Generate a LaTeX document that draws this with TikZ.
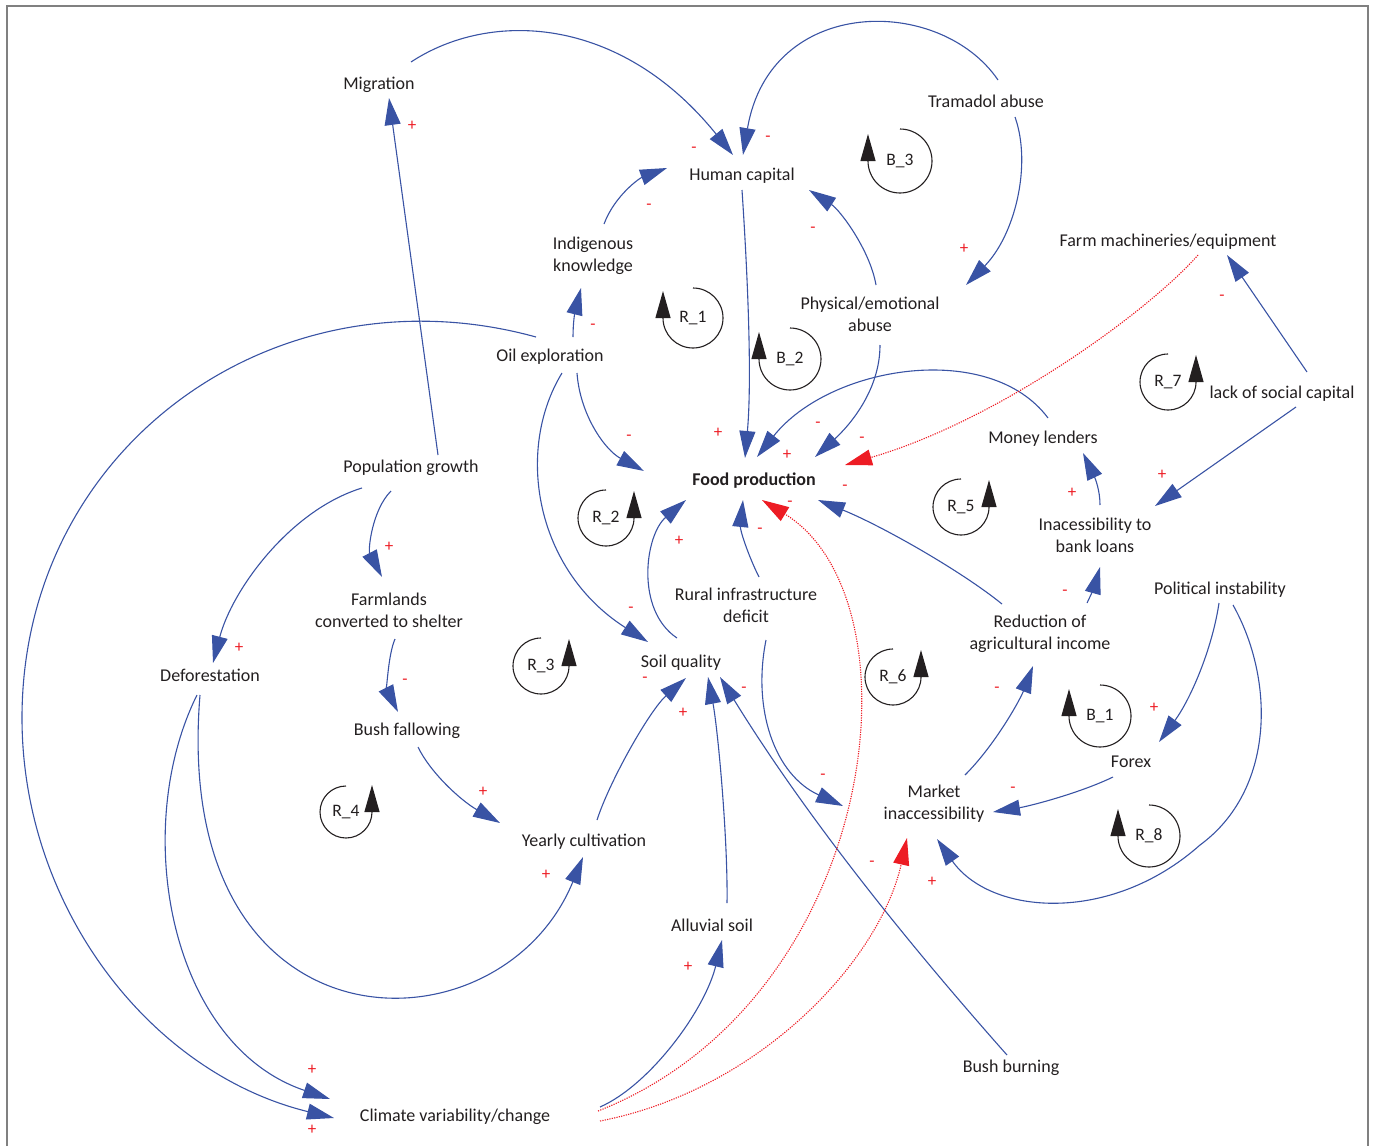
\documentclass[tikz,border=0pt]{standalone}
\usepackage{fontspec}
\setmainfont{Carlito}
\usetikzlibrary{arrows.meta,calc}
\definecolor{cldblue}{HTML}{3953A4}
\definecolor{cldred}{HTML}{ED1C24}
\definecolor{cldink}{HTML}{231F20}
\definecolor{framegray}{HTML}{808080}
% loop marker, arrow on the left side: name, x, y, radius, label
\newcommand{\cwloop}[5]{%
  \node[looplbl] (#1) at (#2,#3) {#5};
  \draw[loopline] (#2,#3-#4) arc[start angle=-90, end angle=180, radius=#4] -- ++(0,-27);}
% loop marker, arrow on the right side
\newcommand{\ccwloop}[5]{%
  \node[looplbl] (#1) at (#2,#3) {#5};
  \draw[loopline] (#2,#3-#4) arc[start angle=-90, end angle=-360, radius=#4] -- ++(0,-27);}
\tikzset{
  var/.style={text=cldink, font=\fontsize{18}{22}\selectfont, align=center, inner sep=1pt},
  pol/.style={text=cldred, font=\fontsize{17}{17}\selectfont, inner sep=0pt},
  looplbl/.style={text=cldink, font=\fontsize{17.5}{20}\selectfont, inner sep=0pt},
  loopline/.style={draw=cldink, line width=1.1pt, -{Triangle[length=27pt, width=15pt]}},
  arr/.style={draw=cldblue, line width=1.1pt, -{Triangle[length=27pt, width=16pt]}},
  rarr/.style={draw=cldred, line width=1.1pt, dash pattern=on 1.2pt off 1.2pt,
               -{Triangle[length=27pt, width=16pt]}}}
\begin{document}
\begin{tikzpicture}[x=1pt, y=-1pt]
  \useasboundingbox (0,0) rectangle (1373,1146);
  \draw[framegray, line width=1.4pt] (7,1146) -- (7,6) -- (1368,6) -- (1368,1146);

  % variables
  \node[var] (mig) at (379,85) {Migration};
  \node[var] (hcap) at (742,176) {Human capital};
  \node[var] (tram) at (986,101) {Tramadol abuse};
  \node[var] (indk) at (593,256) {Indigenous\\knowledge};
  \node[var] (farm) at (1168,242) {Farm machineries/equipment};
  \node[var] (phys) at (870,314) {Physical/emotional\\abuse};
  \node[var] (oil) at (550,357) {Oil exploration};
  \node[var] (lsoc) at (1282,394) {lack of social capital};
  \node[var] (money) at (1043,439) {Money lenders};
  \node[var] (pop) at (411,468) {Population growth};
  \node[var, font=\fontsize{18}{22}\selectfont\bfseries] (food) at (754,481) {Food production};
  \node[var] (bank) at (1095,535) {Inacessibility to\\bank loans};
  \node[var] (rural) at (746,605) {Rural infrastructure\\deficit};
  \node[var] (shelt) at (389,610) {Farmlands\\converted to shelter};
  \node[var] (polit) at (1220,590) {Political instability};
  \node[var] (redinc) at (1040,634) {Reduction of\\agricultural income};
  \node[var] (soil) at (681,663) {Soil quality};
  \node[var] (defor) at (210,675) {Deforestation};
  \node[var] (fallow) at (407,731) {Bush fallowing};
  \node[var] (forex) at (1131,762) {Forex};
  \node[var] (market) at (934,804) {Market\\inaccessibility};
  \node[var] (yearly) at (584,842) {Yearly cultivation};
  \node[var] (alluv) at (712,925) {Alluvial soil};
  \node[var] (burn) at (1011,1068) {Bush burning};
  \node[var] (clim) at (455,1117) {Climate variability/change};

  % causal links
  \draw[arr] ($(mig)+(32,-23)$) .. controls (490,10) and (620,15) .. ($(hcap)+(-9,-21)$);
  \draw[arr] ($(tram)+(12,-21)$) .. controls (940,-5) and (770,-5) .. ($(hcap)+(1,-21)$);
  \draw[arr] ($(tram)+(29,16)$) .. controls (1032,165) and (1015,235) .. ($(phys)+(96,-29)$);
  \draw[arr] ($(indk)+(11,-32)$) .. controls (615,195) and (640,178) .. ($(hcap)+(-75,-8)$);
  \draw[arr] ($(phys)+(6,-29)$) .. controls (870,250) and (840,210) .. ($(hcap)+(67,14)$);
  \draw[arr] ($(hcap)+(0,14)$) .. controls (748,280) and (752,380) .. ($(food)+(-9,-23)$);
  \draw[arr] ($(oil)+(23,-20)$) .. controls (573,322) and (575,312) .. ($(indk)+(-12,32)$);
  \draw[arr] ($(oil)+(-14,-20)$) .. controls (275,265) and (22,447) .. (22,718)
             .. controls (22,907) and (150,1073) .. ($(clim)+(-121,1)$);
  \draw[arr] ($(defor)+(-13,20)$) .. controls (130,830) and (170,1045) .. ($(clim)+(-125,-18)$);
  \draw[arr] ($(defor)+(-10,20)$) .. controls (170,1060) and (500,1060) .. ($(yearly)+(-1,15)$);
  \draw[arr] ($(pop)+(27,-13)$) -- ($(mig)+(10,13)$);
  \draw[arr] ($(pop)+(-49,20)$) .. controls (290,510) and (232,590) .. ($(defor)+(3,-12)$);
  \draw[arr] ($(pop)+(-20,23)$) .. controls (372,510) and (368,550) .. ($(shelt)+(-7,-33)$);
  \draw[arr] ($(shelt)+(6,29)$) .. controls (388,655) and (387,690) .. ($(fallow)+(-9,-19)$);
  \draw[arr] ($(fallow)+(11,16)$) .. controls (430,772) and (460,800) .. ($(yearly)+(-84,-19)$);
  \draw[arr] ($(yearly)+(13,-22)$) .. controls (610,780) and (650,710) .. ($(soil)+(5,15)$);
  \draw[arr] ($(alluv)+(15,-22)$) .. controls (728,840) and (718,730) .. ($(soil)+(27,14)$);
  \draw[arr] ($(burn)+(-4,-13)$) .. controls (905,940) and (805,815) .. ($(soil)+(39,14)$);
  \draw[arr] ($(clim)+(145,-10)$) .. controls (650,1085) and (705,1010) .. ($(alluv)+(10,15)$);
  \draw[rarr] ($(clim)+(143,-6)$) .. controls (880,1000) and (925,600) .. ($(food)+(8,19)$);
  \draw[rarr] ($(clim)+(145,4)$) .. controls (760,1090) and (880,960) .. ($(market)+(-27,34)$);
  \draw[arr] ($(rural)+(13,-28)$) .. controls (748,555) and (740,530) .. ($(food)+(-11,19)$);
  \draw[arr] ($(rural)+(20,35)$) .. controls (752,710) and (775,775) .. ($(market)+(-91,2)$);
  \draw[arr] ($(soil)+(-4,-25)$) .. controls (635,610) and (645,535) .. ($(food)+(-68,19)$);
  \draw[arr] ($(oil)+(27,16)$) .. controls (580,415) and (605,450) .. ($(food)+(-110,-10)$);
  \draw[arr] ($(oil)+(12,16)$) .. controls (515,450) and (535,570) .. ($(soil)+(-33,-21)$);
  \draw[arr] ($(phys)+(10,31)$) .. controls (880,390) and (850,425) .. ($(food)+(61,-24)$);
  \draw[arr] ($(money)+(5,-21)$) .. controls (990,340) and (830,365) .. ($(food)+(3,-24)$);
  \draw[rarr] ($(farm)+(30,13)$) .. controls (1150,310) and (1000,420) .. ($(food)+(91,-16)$);
  \draw[arr] ($(lsoc)+(25,-22)$) -- ($(farm)+(59,13)$);
  \draw[arr] ($(lsoc)+(14,13)$) -- ($(bank)+(60,-29)$);
  \draw[arr] ($(bank)+(5,-30)$) .. controls (1100,490) and (1095,478) .. ($(money)+(40,14)$);
  \draw[arr] ($(redinc)+(47,-31)$) .. controls (1090,597) and (1095,585) .. ($(bank)+(5,32)$);
  \draw[arr] ($(redinc)+(-38,-30)$) .. controls (960,570) and (880,525) .. ($(food)+(64,19)$);
  \draw[arr] ($(market)+(31,-29)$) .. controls (995,745) and (1020,700) .. ($(redinc)+(-7,32)$);
  \draw[arr] ($(polit)+(-1,13)$) .. controls (1212,650) and (1190,700) .. ($(forex)+(28,-20)$);
  \draw[arr] ($(polit)+(13,15)$) .. controls (1275,680) and (1275,790) .. (1200,845)
             .. controls (1110,925) and (990,915) .. ($(market)+(3,35)$);
  \draw[arr] ($(forex)+(-18,15)$) .. controls (1080,793) and (1030,806) .. ($(market)+(59,8)$);

  % polarities
  \node[pol] (s1) at (412,126) {+};
  \node[pol] (s2) at (694,150) {-};
  \node[pol] (s3) at (768,139) {-};
  \node[pol] (s4) at (649,207) {-};
  \node[pol] (s5) at (813,230) {-};
  \node[pol] (s6) at (964,249) {+};
  \node[pol] (s7) at (1222,298) {-};
  \node[pol] (s8) at (593,327) {-};
  \node[pol] (s9) at (629,438) {-};
  \node[pol] (s10) at (718,433) {+};
  \node[pol] (s11) at (787,455) {+};
  \node[pol] (s12) at (818,425) {-};
  \node[pol] (s13) at (862,440) {-};
  \node[pol] (s14) at (845,488) {-};
  \node[pol] (s15) at (790,504) {-};
  \node[pol] (s16) at (760,531) {-};
  \node[pol] (s17) at (679,541) {+};
  \node[pol] (s18) at (1072,493) {+};
  \node[pol] (s19) at (1162,475) {+};
  \node[pol] (s20) at (389,547) {+};
  \node[pol] (s21) at (1065,593) {-};
  \node[pol] (s22) at (631,610) {-};
  \node[pol] (s23) at (239,648) {+};
  \node[pol] (s24) at (405,682) {-};
  \node[pol] (s25) at (645,680) {-};
  \node[pol] (s26) at (683,713) {+};
  \node[pol] (s27) at (744,690) {-};
  \node[pol] (s28) at (997,690) {-};
  \node[pol] (s29) at (1154,708) {+};
  \node[pol] (s30) at (823,777) {-};
  \node[pol] (s31) at (1013,790) {-};
  \node[pol] (s32) at (483,792) {+};
  \node[pol] (s33) at (546,875) {+};
  \node[pol] (s34) at (872,864) {-};
  \node[pol] (s35) at (932,882) {+};
  \node[pol] (s36) at (688,967) {+};
  \node[pol] (s37) at (312,1070) {+};
  \node[pol] (s38) at (312,1130) {+};

  % loop markers
  \cwloop{r1}{693}{318}{30}{R\_1}
  \cwloop{b3}{900}{161}{32}{B\_3}
  \cwloop{b2}{790}{359}{31}{B\_2}
  \ccwloop{r2}{606}{518}{28}{R\_2}
  \ccwloop{r3}{541}{666}{28}{R\_3}
  \ccwloop{r4}{346}{812}{26}{R\_4}
  \ccwloop{r5}{961}{507}{28}{R\_5}
  \ccwloop{r6}{893}{677}{28}{R\_6}
  \ccwloop{r7}{1168}{382}{28}{R\_7}
  \cwloop{r8}{1149}{836}{31}{R\_8}
  \cwloop{b1}{1100}{716}{31}{B\_1}
\end{tikzpicture}
\end{document}
